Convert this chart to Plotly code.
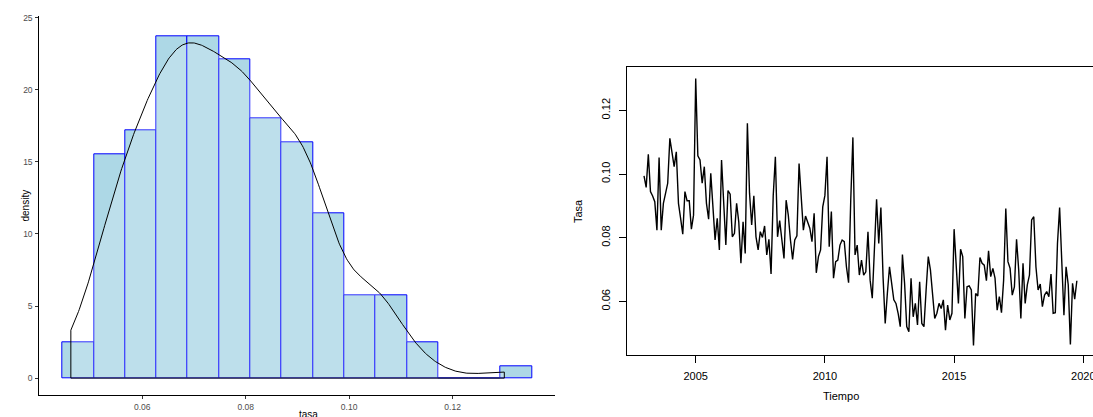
import numpy as np
import plotly.graph_objects as go

# Monthly rate, Jan 2003 .. Oct 2019
start_year = 2003
tasa = [
    0.0994, 0.0958, 0.1062, 0.0945, 0.0931, 0.0913, 0.0824, 0.1052, 0.0824, 0.0908, 0.0939, 0.0971,
    0.1112, 0.1060, 0.1023, 0.1070, 0.0908, 0.0861, 0.0811, 0.0945, 0.0916, 0.0916, 0.0827, 0.0871,
    0.1300, 0.1057, 0.1044, 0.0971, 0.1023, 0.0908, 0.0858, 0.1002, 0.0908, 0.0793, 0.0861, 0.0762,
    0.1044, 0.0887, 0.0777, 0.0948, 0.0937, 0.0803, 0.0814, 0.0908, 0.0850, 0.0720, 0.0850, 0.0751,
    0.1159, 0.0940, 0.0840, 0.0932, 0.0803, 0.0762, 0.0819, 0.0801, 0.0837, 0.0746, 0.0795, 0.0686,
    0.0932, 0.1054, 0.0803, 0.0854, 0.0793, 0.0735, 0.0918, 0.0871, 0.0793, 0.0732, 0.0793, 0.0806,
    0.1033, 0.0934, 0.0824, 0.0868, 0.0845, 0.0830, 0.0788, 0.0877, 0.0690, 0.0741, 0.0762, 0.0897,
    0.0933, 0.1054, 0.0772, 0.0882, 0.0673, 0.0725, 0.0730, 0.0777, 0.0793, 0.0788, 0.0709, 0.0659,
    0.0918, 0.1115, 0.0746, 0.0777, 0.0683, 0.0730, 0.0683, 0.0693, 0.0819, 0.0667, 0.0610, 0.0767,
    0.0921, 0.0782, 0.0895, 0.0678, 0.0531, 0.0625, 0.0709, 0.0657, 0.0605, 0.0594, 0.0563, 0.0521,
    0.0747, 0.0657, 0.0521, 0.0505, 0.0673, 0.0552, 0.0594, 0.0526, 0.0662, 0.0531, 0.0521, 0.0636,
    0.0741, 0.0699, 0.0625, 0.0547, 0.0563, 0.0594, 0.0578, 0.0605, 0.0510, 0.0589, 0.0542, 0.0563,
    0.0827, 0.0688, 0.0594, 0.0764, 0.0741, 0.0547, 0.0646, 0.0649, 0.0636, 0.0462, 0.0625, 0.0617,
    0.0738, 0.0720, 0.0714, 0.0665, 0.0759, 0.0678, 0.0704, 0.0673, 0.0573, 0.0615, 0.0565, 0.0667,
    0.0892, 0.0725, 0.0704, 0.0620, 0.0646, 0.0795, 0.0699, 0.0547, 0.0720, 0.0594, 0.0652, 0.0683,
    0.0856, 0.0866, 0.0709, 0.0636, 0.0655, 0.0584, 0.0620, 0.0631, 0.0615, 0.0686, 0.0563, 0.0565,
    0.0782, 0.0895, 0.0699, 0.0557, 0.0709, 0.0652, 0.0465, 0.0657, 0.0607, 0.0665,
]

# Histogram bins
bin_start = 0.0446
bin_width = 0.00605
n_bins = 15

hist_ticks = [0.06, 0.08, 0.10, 0.12]
hist_ticktext = ["0.06", "0.08", "0.10", "0.12"]
dens_ticks = [0, 5, 10, 15, 20, 25]
year_ticks = [2005, 2010, 2015, 2020]
rate_ticks = [0.06, 0.08, 0.10, 0.12]
rate_ticktext = ["0.06", "0.08", "0.10", "0.12"]

x = np.array(tasa)
n = len(x)
years = start_year + np.arange(n) / 12.0

edges = bin_start + bin_width * np.arange(n_bins + 1)
counts, _ = np.histogram(x, bins=edges)
dens_hist = counts / (n * bin_width)
centers = (edges[:-1] + edges[1:]) / 2

# Gaussian kernel density, bw.nrd0 rule, evaluated over the data range
sd = np.std(x, ddof=1)
iqr = np.subtract(*np.percentile(x, [75, 25]))
bw = 0.9 * min(sd, iqr / 1.34) * n ** (-0.2)
grid = np.linspace(x.min(), x.max(), 512)
kde = np.exp(-0.5 * ((grid[:, None] - x[None, :]) / bw) ** 2).sum(axis=1) / (n * bw * np.sqrt(2 * np.pi))
poly_x = np.concatenate([grid, [grid[-1], grid[0], grid[0]]])
poly_y = np.concatenate([kde, [0, 0, kde[0]]])

FONT = "Liberation Sans, Arial, sans-serif"
W, H = 1093, 417

fig = go.Figure()
fig.add_trace(go.Bar(
    x=centers, y=dens_hist, width=bin_width,
    marker=dict(color="#ADD8E6", line=dict(color="#0000FF", width=1)),
    xaxis="x", yaxis="y", showlegend=False,
))
fig.add_trace(go.Scatter(
    x=poly_x, y=poly_y, mode="lines", fill="toself",
    fillcolor="rgba(255,255,255,0.2)", line=dict(color="black", width=1),
    xaxis="x", yaxis="y", showlegend=False,
))
fig.add_trace(go.Scatter(
    x=years, y=x, mode="lines", line=dict(color="black", width=1.4),
    xaxis="x2", yaxis="y2", showlegend=False,
))

tick_l = dict(size=8.5, color="#4D4D4D", family=FONT)
tick_r = dict(size=11, color="black", family=FONT)

fig.update_layout(
    width=W, height=H,
    margin=dict(l=0, r=0, t=0, b=0, autoexpand=False),
    paper_bgcolor="white", plot_bgcolor="rgba(0,0,0,0)",
    bargap=0,
    xaxis=dict(
        domain=[39.3 / W, 555 / W], range=[0.0401, 0.1398],
        tickvals=hist_ticks, ticktext=hist_ticktext, automargin=False,
        ticks="outside", ticklen=3, tickcolor="#333333", tickwidth=1,
        showline=True, linecolor="black", linewidth=1,
        showgrid=False, zeroline=False, tickfont=tick_l,
    ),
    yaxis=dict(
        domain=[1 - 395.3 / H, 1 - 16.3 / H], range=[-1.195, 25.1],
        tickvals=dens_ticks, automargin=False,
        ticks="outside", ticklen=3, tickcolor="#333333", tickwidth=1,
        showline=True, linecolor="black", linewidth=1,
        showgrid=False, zeroline=False, tickfont=tick_l, ticklabelstandoff=1,
    ),
    xaxis2=dict(
        domain=[626.7 / W, 1.0], range=[2002.33, 2020.375], anchor="y2",
        tickvals=year_ticks, ticklabeloverflow="allow", automargin=False,
        ticks="outside", ticklen=7, tickcolor="black", tickwidth=1,
        showline=True, linecolor="black", linewidth=1, mirror=True,
        showgrid=False, zeroline=False, tickfont=tick_r, ticklabelstandoff=4,
    ),
    yaxis2=dict(
        domain=[1 - 355 / H, 1 - 67.3 / H], range=[0.0432, 0.1335], anchor="x2",
        tickvals=rate_ticks, ticktext=rate_ticktext, tickangle=-90, automargin=False,
        ticks="outside", ticklen=7, tickcolor="black", tickwidth=1,
        showline=True, linecolor="black", linewidth=1,
        showgrid=False, zeroline=False, tickfont=tick_r, ticklabelstandoff=4,
    ),
    annotations=[
        dict(text="density", x=17 / W, y=1 - 206 / H, xref="paper", yref="paper",
             textangle=-90, showarrow=False, font=dict(size=10, color="black", family=FONT)),
        dict(text="tasa", x=297 / W, y=1 - 407 / H, xref="paper", yref="paper",
             yanchor="top", showarrow=False, font=dict(size=10, color="black", family=FONT)),
        dict(text="Tasa", x=578 / W, y=1 - 211 / H, xref="paper", yref="paper",
             textangle=-90, showarrow=False, font=dict(size=11, color="black", family=FONT)),
        dict(text="Tiempo", x=861 / W, y=1 - 404 / H, xref="paper", yref="paper",
             showarrow=False, font=dict(size=11, color="black", family=FONT)),
    ],
)

fig.write_html("out.html")
